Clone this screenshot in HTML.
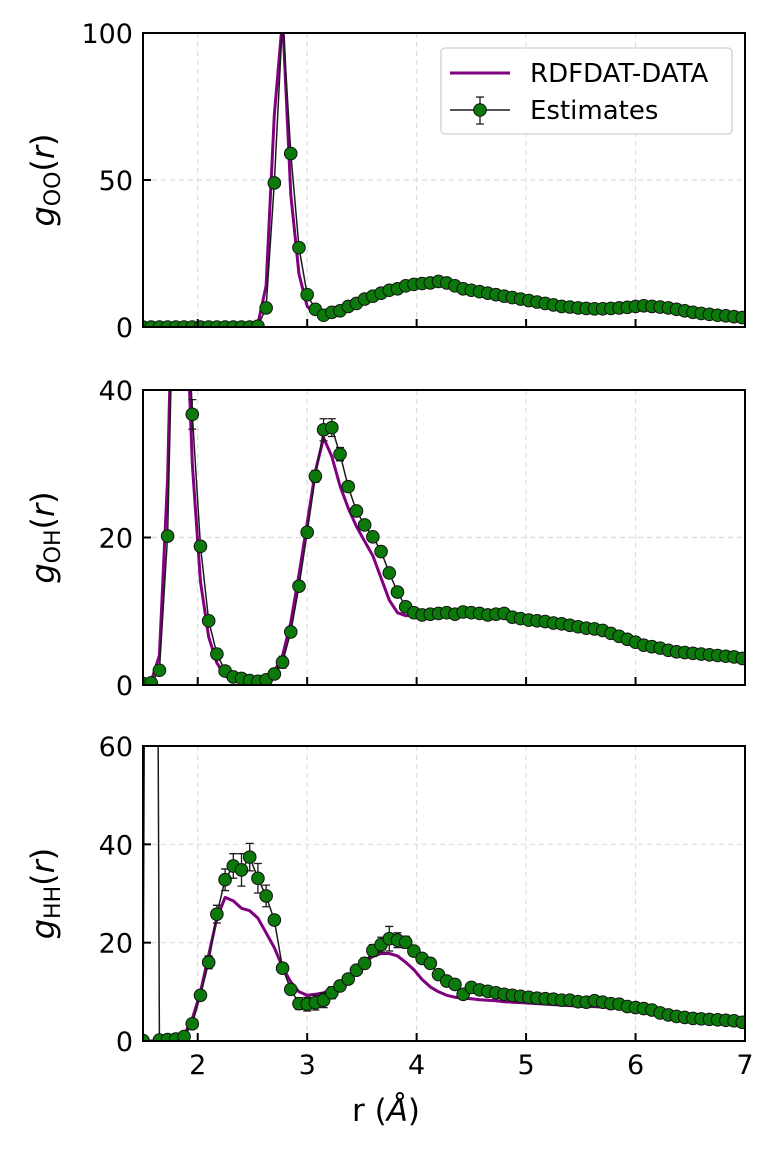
<!DOCTYPE html>
<html><head><meta charset="utf-8"><style>
html,body{margin:0;padding:0;background:#fff;}
svg{display:block;font-family:"DejaVu Sans","Liberation Sans",sans-serif;}
</style></head><body>
<svg id="chart" width="777" height="1151" viewBox="0 0 777 1151" xmlns="http://www.w3.org/2000/svg"></svg>
<script>
const rGrid = [1.5,1.575,1.65,1.725,1.8,1.875,1.95,2.025,2.1,2.175,2.25,2.325,2.4,2.475,2.55,2.625,2.7,2.775,2.85,2.925,3.0,3.075,3.15,3.225,3.3,3.375,3.45,3.525,3.6,3.675,3.75,3.825,3.9,3.975,4.05,4.125,4.2,4.275,4.35,4.425,4.5,4.575,4.65,4.725,4.8,4.875,4.95,5.025,5.1,5.175,5.25,5.325,5.4,5.475,5.55,5.625,5.7,5.775,5.85,5.925,6.0,6.075,6.15,6.225,6.3,6.375,6.45,6.525,6.6,6.675,6.75,6.825,6.9,6.975];
const ooEst = [0,0,0,0,0,0,0,0,0,0,0,0,0,0,0.3,6.5,49,105,59,27,11,6,4,5,5.5,7,8,9.5,10.5,11.5,12.5,13,14,14.5,14.8,15,15.5,15,14,13,12.5,12,11.5,11,10.5,10,9.5,9,8.5,8,7.5,7,6.8,6.5,6.3,6.2,6.2,6.3,6.5,6.7,7,7.2,7,6.8,6.5,6,5.5,5,4.6,4.3,4,3.8,3.5,3.2];
const ooRef = [0,0,0,0,0,0,0,0,0,0,0,0,0,0,1,14,72,105,45,18,7,4.5,4,5,5.5,7,8,9.5,10.5,11.5,12.5,13,14,14.5,14.8,15,15.5,15,14,13,12.5,12,11.5,11,10.5,10,9.5,9,8.5,8,7.5,7,6.8,6.5,6.3,6.2,6.2,6.3,6.5,6.7,7,7.2,7,6.8,6.5,6,5.5,5,4.6,4.3,4,3.8,3.5,3.2];
const ohEst = [0.2,0.3,2.0,20.2,70,65,36.7,18.8,8.7,4.2,1.9,1.1,0.9,0.6,0.5,0.7,1.5,3.1,7.2,13.4,20.7,28.3,34.6,34.9,31.3,26.9,23.6,21.7,20.1,18.1,15.2,12.6,10.6,9.8,9.5,9.6,9.7,9.8,9.6,9.9,9.8,9.7,9.5,9.6,9.7,9.2,9.0,8.8,8.7,8.6,8.4,8.3,8.1,7.9,7.7,7.6,7.4,7.0,6.6,6.2,5.8,5.4,5.2,5.0,4.7,4.5,4.4,4.3,4.2,4.1,4.0,3.9,3.8,3.6];
const ohRef = [0.2,0.5,4,28,75,60,30,14,6.5,3,1.2,0.6,0.4,0.3,0.3,0.6,1.8,4,8.5,15,22,29,33.5,31,27,24,21.5,19.5,17.5,14.5,11.5,9.8,9.4,9.5,9.3,9.4,9.5,9.6,9.4,9.7,9.6,9.5,9.3,9.4,9.5,9.0,8.8,8.6,8.5,8.4,8.2,8.1,7.9,7.7,7.5,7.4,7.2,6.8,6.4,6.0,5.6,5.2,5.0,4.8,4.5,4.3,4.2,4.1,4.0,3.9,3.8,3.7,3.6,3.4];
const hhEst = [0.1,400,0.2,0.3,0.4,0.9,3.5,9.3,16,25.8,32.8,35.6,34.8,37.4,33.1,29.5,24.6,14.8,10.5,7.6,7.5,7.8,8.3,9.8,11.2,12.6,14.4,15.8,18.4,19.6,20.8,20.5,20.1,18.3,16.8,15.8,13.5,12.2,11.5,9.5,10.9,10.4,10.1,9.8,9.5,9.3,9.1,8.9,8.7,8.6,8.5,8.3,8.3,8.0,7.9,8.2,7.9,7.6,7.5,7.0,6.8,6.6,6.3,5.7,5.3,5.0,4.8,4.6,4.5,4.4,4.3,4.2,4.1,3.8];
const hhRef = [0,0,0.1,0.2,0.4,1.2,4.5,10,17.5,25,29.2,28.5,27,26.5,25,22,19,15,12,10,9.3,9.5,9.8,10.5,11.5,13,14.5,16,17.2,17.8,17.8,17.3,16,14.5,12.5,11,10,9.3,8.9,8.7,8.6,8.4,8.3,8.2,8.0,7.9,7.8,7.7,7.6,7.5,7.4,7.3,7.2,7.1,7.0,7.0,6.9,6.8,6.8,6.6,6.5,6.3,6.0,5.6,5.2,4.9,4.7,4.5,4.4,4.3,4.2,4.1,4.0,3.7];
const ooErr = [0,0,0,0,0,0,0,0,0,0,0,0,0,0,0.3,0.8,1.5,3,1.5,1,0.6,0.4,0.3,0.3,0.3,0.3,0.3,0.3,0.3,0.3,0.3,0.3,0.3,0.3,0.3,0.3,0.3,0.3,0.3,0.3,0.3,0.3,0.3,0.3,0.3,0.3,0.3,0.3,0.3,0.3,0.3,0.3,0.3,0.3,0.3,0.3,0.3,0.3,0.3,0.3,0.3,0.3,0.3,0.3,0.3,0.3,0.3,0.3,0.3,0.3,0.3,0.3,0.3,0.3];
const ohErr = [0.2,0.2,0.3,0.6,1,1,2,0.5,0.4,0.3,0.3,0.3,0.3,0.3,0.3,0.3,0.5,0.8,0.6,0.4,0.5,0.8,1.5,1.2,0.9,0.6,0.5,0.4,0.4,0.4,0.4,0.3,0.3,0.3,0.3,0.3,0.3,0.3,0.3,0.3,0.3,0.3,0.3,0.3,0.3,0.3,0.3,0.3,0.3,0.3,0.3,0.3,0.3,0.3,0.3,0.3,0.3,0.3,0.3,0.3,0.3,0.3,0.3,0.3,0.3,0.3,0.3,0.3,0.3,0.3,0.3,0.3,0.3,0.3];
const hhErr = [0.2,0,0.2,0.2,0.2,0.3,0.6,1,1.3,1.8,2.2,2.5,3.3,2.8,3,2.2,1,0.8,0.8,1.2,1.4,1.5,1.5,1.2,1,1,0.9,1.1,1.2,1.5,2.5,1.5,1.2,1,0.8,0.6,0.6,0.5,0.5,0.5,0.5,0.5,0.5,0.5,0.5,0.5,0.5,0.5,0.5,0.5,0.5,0.5,0.5,0.5,0.5,0.8,0.5,0.5,0.5,0.5,0.5,0.5,0.5,0.5,0.5,0.5,0.5,0.5,0.5,0.5,0.5,0.5,0.5,0.5];
const xTicks = [2,3,4,5,6,7];
const ooTicks = [0,50,100];
const ohTicks = [0,20,40];
const hhTicks = [0,20,40,60];

const NS = "http://www.w3.org/2000/svg";
const svg = document.getElementById('chart');
const X0 = 143, X1 = 745, RMIN = 1.5, RMAX = 7;
function xs(r){ return X0 + (r - RMIN) / (RMAX - RMIN) * (X1 - X0); }
function mk(tag, attrs, parent){ const e = document.createElementNS(NS, tag); for (const k in attrs) e.setAttribute(k, attrs[k]); (parent || svg).appendChild(e); return e; }

const defsEl = mk('defs', {});
const panels = [
  {key:'oo', top:33, bot:327, ymax:100, ticks:ooTicks, est:ooEst, ref:ooRef, err:ooErr, sub:'OO'},
  {key:'oh', top:390, bot:685, ymax:40, ticks:ohTicks, est:ohEst, ref:ohRef, err:ohErr, sub:'OH'},
  {key:'hh', top:746, bot:1041, ymax:60, ticks:hhTicks, est:hhEst, ref:hhRef, err:hhErr, sub:'HH'}
];

panels.forEach((p, pi) => {
  const ys = v => p.bot - v / p.ymax * (p.bot - p.top);
  const g = mk('g', {});
  
  
  const cp = mk('clipPath', {id: 'clip' + pi}, defsEl);
  mk('rect', {x: X0, y: p.top, width: X1 - X0, height: p.bot - p.top}, cp);

  xTicks.forEach(t => {
    const l = mk('line', {x1: xs(t), x2: xs(t), y1: p.top, y2: p.bot, stroke: '#dcdcdc', 'stroke-width': 1.2, 'stroke-dasharray': '5,4'}, g);
    
    
  });
  p.ticks.forEach(t => {
    const l = mk('line', {x1: X0, x2: X1, y1: ys(t), y2: ys(t), stroke: '#dcdcdc', 'stroke-width': 1.2, 'stroke-dasharray': '5,4'}, g);
    
    
  });

  const cg = mk('g', {'clip-path': 'url(#clip' + pi + ')'}, g);
  const refPts = rGrid.map((r, i) => xs(r).toFixed(1) + ',' + ys(p.ref[i]).toFixed(1)).join(' ');
  const refLine = mk('polyline', {points: refPts, fill: 'none', stroke: '#800080', 'stroke-width': 3, 'stroke-linejoin': 'round'}, cg);
  
  
  const estPts = rGrid.map((r, i) => xs(r).toFixed(1) + ',' + ys(p.est[i]).toFixed(1)).join(' ');
  const estLine = mk('polyline', {points: estPts, fill: 'none', stroke: '#1a1a1a', 'stroke-width': 1.5}, cg);
  
  
  rGrid.forEach((r, i) => {
    const x = xs(r), v = p.est[i], e = p.err[i];
    if (e > 0.25) {
      const eb = mk('path', {d: `M${x},${ys(v+e)}V${ys(v-e)}M${x-4},${ys(v+e)}H${x+4}M${x-4},${ys(v-e)}H${x+4}`, stroke: '#1a1a1a', 'stroke-width': 1.3, fill: 'none'}, cg);
      
      
    }
    const c = mk('circle', {cx: x, cy: ys(v), r: 6.3, fill: '#0b7a0b', stroke: '#111', 'stroke-width': 1}, cg);
    
    
  });

  const fr = mk('rect', {x: X0, y: p.top, width: X1 - X0, height: p.bot - p.top, fill: 'none', stroke: '#000', 'stroke-width': 2}, g);
  
  
  xTicks.forEach(t => {
    const tk = mk('line', {x1: xs(t), x2: xs(t), y1: p.bot, y2: p.bot - 8, stroke: '#000', 'stroke-width': 2}, g);
    
    
    if (pi === 2) {
      const tl = mk('text', {x: xs(t), y: p.bot + 33, 'text-anchor': 'middle', 'font-size': 27}, g);
      tl.textContent = t;
      
      
    }
  });
  p.ticks.forEach(t => {
    const tk = mk('line', {x1: X0, x2: X0 + 8, y1: ys(t), y2: ys(t), stroke: '#000', 'stroke-width': 2}, g);
    
    
    const tl = mk('text', {x: X0 - 10, y: ys(t) + 10, 'text-anchor': 'end', 'font-size': 27}, g);
    tl.textContent = t;
    
    
  });
  const cy = (p.top + p.bot) / 2;
  const yl = mk('text', {x: 0, y: 0, 'font-size': 32, 'text-anchor': 'middle', transform: `translate(54,${cy}) rotate(-90)`}, g);
  
  
  yl.innerHTML = `<tspan font-style="italic">g</tspan><tspan font-size="22" dy="6">${p.sub}</tspan><tspan dy="-6">(</tspan><tspan font-style="italic">r</tspan><tspan>)</tspan>`;
});

const xl = mk('text', {x: 386, y: 1121, 'text-anchor': 'middle', 'font-size': 31});


xl.innerHTML = 'r (<tspan font-style="italic">Å</tspan>)';

const lg = mk('g', {});


mk('rect', {x: 441, y: 48, width: 291, height: 86, rx: 4, fill: '#fff', 'fill-opacity': 0.85, stroke: '#d0d0d0', 'stroke-width': 1.3}, lg);
const le1 = mk('g', {}, lg);


mk('line', {x1: 450, x2: 510, y1: 73, y2: 73, stroke: '#800080', 'stroke-width': 3}, le1);
const t1 = mk('text', {x: 530, y: 82, 'font-size': 26}, le1); t1.textContent = 'RDFDAT-DATA';
const le2 = mk('g', {}, lg);


mk('line', {x1: 450, x2: 510, y1: 110, y2: 110, stroke: '#1a1a1a', 'stroke-width': 1.5}, le2);
mk('path', {d: 'M480,97V124M476,97H484M476,124H484', stroke: '#1a1a1a', 'stroke-width': 1.3, fill: 'none'}, le2);
mk('circle', {cx: 480, cy: 110, r: 6.3, fill: '#0b7a0b', stroke: '#111', 'stroke-width': 1}, le2);
const t2 = mk('text', {x: 530, y: 119, 'font-size': 26}, le2); t2.textContent = 'Estimates';
</script>
</body></html>
